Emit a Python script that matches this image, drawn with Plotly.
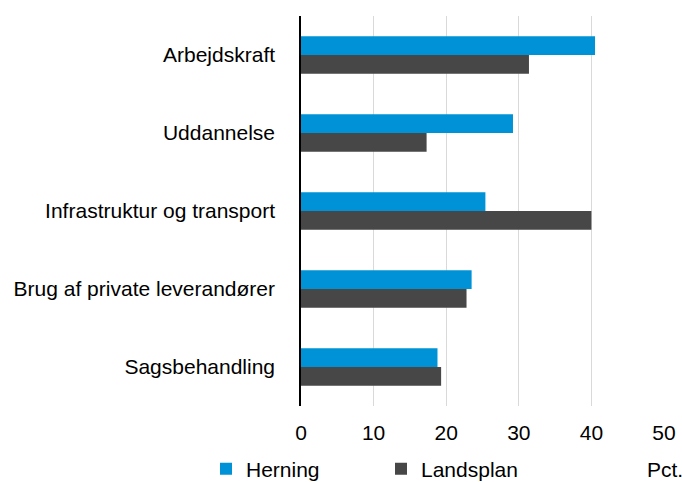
import plotly.graph_objects as go

categories = ["Arbejdskraft", "Uddannelse", "Infrastruktur og transport",
              "Brug af private leverandører", "Sagsbehandling"]
herning = [40.5, 29.2, 25.4, 23.5, 18.8]
landsplan = [31.4, 17.3, 40.0, 22.8, 19.3]
x_ticks = [0, 10, 20, 30, 40, 50]

BLUE = "#0092D6"
DARK = "#474747"
FONT = "Liberation Sans, Arial, sans-serif"
FS = 21

fig = go.Figure()
fig.add_trace(go.Bar(y=categories, x=herning, name="Herning", orientation="h",
                     marker=dict(color=BLUE, line=dict(width=0))))
fig.add_trace(go.Bar(y=categories, x=landsplan, name="Landsplan", orientation="h",
                     marker=dict(color=DARK, line=dict(width=0))))

L, R, T, B = 301, 18, 16, 76
plot_w = 682 - L - R
plot_h = 482 - T - B
LEG_Y = 469
fig.update_layout(
    width=682, height=482,
    margin=dict(l=L, r=R, t=T, b=B, autoexpand=False),
    paper_bgcolor="white", plot_bgcolor="white",
    font=dict(family=FONT, size=FS, color="#000000"),
    barmode="group", bargap=0.52, bargroupgap=0,
    showlegend=True,
    legend=dict(orientation="h", x=(206 - L) / plot_w, xanchor="left",
                y=-(LEG_Y - 406) / plot_h, yanchor="middle",
                entrywidth=130, entrywidthmode="pixels",
                itemwidth=30, font=dict(size=FS, family=FONT),
                bgcolor="rgba(0,0,0,0)"),
    xaxis=dict(range=[0, 50], tickvals=x_ticks, showgrid=True,
               gridcolor="#d9d9d9", gridwidth=1, zeroline=False,
               showline=False, ticks="", ticklabelstandoff=12,
               automargin=False, tickfont=dict(size=FS, family=FONT)),
    yaxis=dict(autorange="reversed", showline=True, linecolor="#000000",
               linewidth=1.5, ticks="", ticklabelstandoff=20,
               automargin=False, showgrid=False,
               tickfont=dict(size=FS, family=FONT)),
    annotations=[dict(text="Pct.", xref="paper", yref="paper",
                      x=(645 - L) / plot_w, xanchor="left",
                      y=-(LEG_Y - 406) / plot_h, yanchor="middle",
                      showarrow=False, font=dict(size=FS, family=FONT))],
)

fig.write_html("out.html",
               config={"displayModeBar": False},
               post_script="document.body.style.margin='0';"
                           "document.body.style.overflow='hidden';")
